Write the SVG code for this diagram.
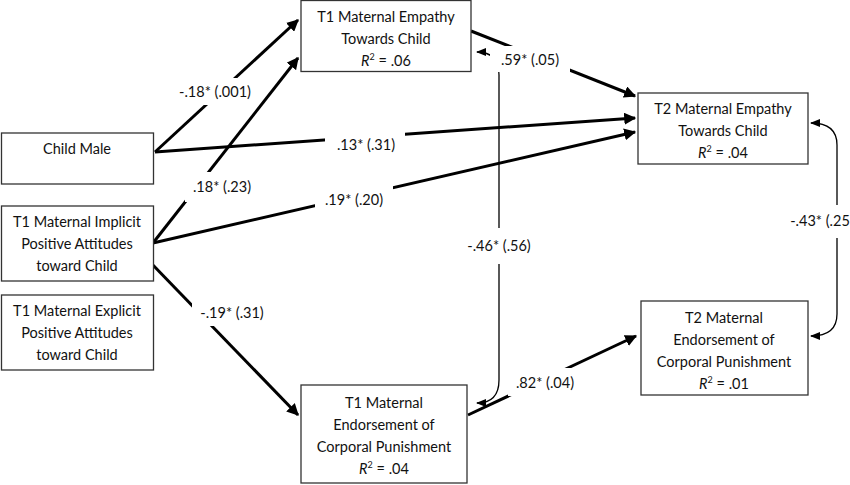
<svg xmlns="http://www.w3.org/2000/svg" width="850" height="485" viewBox="0 0 850 485">
<defs>
<marker id="a" viewBox="0 0 10 10" refX="9" refY="5" markerWidth="4" markerHeight="4" orient="auto-start-reverse"><path d="M0,0L10,5L0,10z" fill="#000"/></marker>
<marker id="b" viewBox="0 0 10 10" refX="9" refY="5" markerWidth="8" markerHeight="8" orient="auto-start-reverse"><path d="M0,1L10,5L0,9z" fill="#000"/></marker>
</defs>
<style>
text{font-family:Lato,"Liberation Sans",sans-serif;font-size:14.5px;fill:#111;text-anchor:middle}
.box{fill:#fff;stroke:#333;stroke-width:1.3}
.p{stroke:#000;stroke-width:3;fill:none;marker-end:url(#a)}
.c{stroke:#000;stroke-width:1.3;fill:none;marker-start:url(#b);marker-end:url(#b)}
.lb{fill:#fff}
</style>
<g id="connectors">
<path class="p" d="M155,152L298,20"/>
<path class="p" d="M153,243L298,58"/>
<path class="p" d="M155,152L635,118"/>
<path class="p" d="M153,243L635,132"/>
<path class="p" d="M150,262L298,415"/>
<path class="p" d="M471,31L635,96"/>
<path class="p" d="M468,415L636,336"/>
<path class="c" d="M477,52Q499,52 499,75L499,380Q499,403 477,403"/>
<path class="c" d="M811,123Q837,123 837,145L837,314Q837,336 811,336"/>
<rect class="lb" x="168" y="78" width="90" height="27"/>
<rect class="lb" x="185" y="172" width="76" height="30"/>
<rect class="lb" x="325" y="132" width="80" height="25"/>
<rect class="lb" x="315" y="185" width="78" height="27"/>
<rect class="lb" x="192" y="298" width="80" height="28"/>
<rect class="lb" x="490" y="46" width="80" height="26"/>
<rect class="lb" x="508" y="368" width="74" height="28"/>
<rect class="lb" x="460" y="228" width="78" height="36"/>
<rect class="lb" x="785" y="205" width="65" height="33"/>
<text x="215" y="97">-.18* (.001)</text>
<text x="222" y="192">.18* (.23)</text>
<text x="366" y="150">.13* (.31)</text>
<text x="354" y="205">.19* (.20)</text>
<text x="232" y="318">-.19* (.31)</text>
<text x="530" y="65">.59* (.05)</text>
<text x="545" y="388">.82* (.04)</text>
<text x="499" y="251">-.46* (.56)</text>
<text x="820" y="226">-.43* (.25</text>
</g>
<g id="t1emp"><rect class="box" x="301" y="0.5" width="170" height="71"/><text x="386" y="22">T1 Maternal Empathy</text><text x="386" y="44">Towards Child</text><text x="386" y="66"><tspan font-style="italic">R</tspan><tspan font-size="9" dy="-6">2</tspan><tspan dy="6"> = .06</tspan></text></g>
<g id="childmale"><rect class="box" x="1.5" y="133" width="152" height="51"/><text x="77" y="154">Child Male</text></g>
<g id="implicit"><rect class="box" x="1.5" y="206" width="152" height="75"/><text x="77" y="227">T1 Maternal Implicit</text><text x="77" y="249">Positive Attitudes</text><text x="77" y="271">toward Child</text></g>
<g id="explicit"><rect class="box" x="1.5" y="295" width="152" height="75"/><text x="77" y="316">T1 Maternal Explicit</text><text x="77" y="338">Positive Attitudes</text><text x="77" y="360">toward Child</text></g>
<g id="t1end"><rect class="box" x="301" y="385" width="166" height="98"/><text x="384" y="408">T1 Maternal</text><text x="384" y="430">Endorsement of</text><text x="384" y="452">Corporal Punishment</text><text x="384" y="474"><tspan font-style="italic">R</tspan><tspan font-size="9" dy="-6">2</tspan><tspan dy="6"> = .04</tspan></text></g>
<g id="t2emp"><rect class="box" x="638" y="93" width="170" height="71"/><text x="723" y="114">T2 Maternal Empathy</text><text x="723" y="136">Towards Child</text><text x="723" y="158"><tspan font-style="italic">R</tspan><tspan font-size="9" dy="-6">2</tspan><tspan dy="6"> = .04</tspan></text></g>
<g id="t2end"><rect class="box" x="641" y="301" width="167" height="94"/><text x="724" y="323">T2 Maternal</text><text x="724" y="345">Endorsement of</text><text x="724" y="367">Corporal Punishment</text><text x="724" y="389"><tspan font-style="italic">R</tspan><tspan font-size="9" dy="-6">2</tspan><tspan dy="6"> = .01</tspan></text></g>
</svg>
